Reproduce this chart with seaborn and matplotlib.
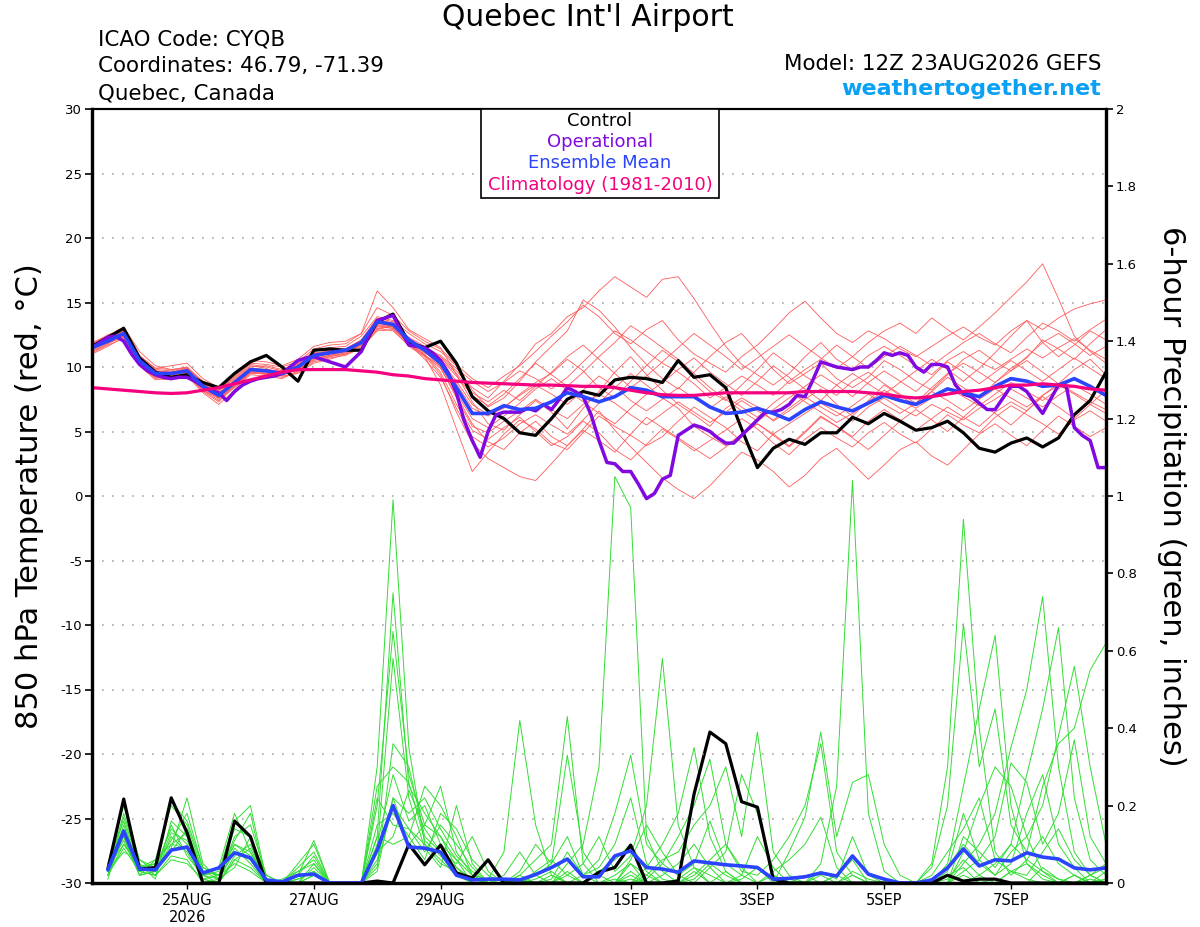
import numpy as np
import pandas as pd
import matplotlib
matplotlib.use("Agg")
import matplotlib.pyplot as plt
import seaborn as sns
from matplotlib.patches import Rectangle

# model run start, 6-hourly ensemble, 3-hourly operational
START = "2026-08-23 12:00"
times = pd.date_range(START, periods=65, freq="6h")
times_op = pd.date_range(START, periods=129, freq="3h")
times_pr = times[1:]

tick_days = ["2026-08-25", "2026-08-27", "2026-08-29", "2026-09-01",
             "2026-09-03", "2026-09-05", "2026-09-07"]
tick_labels = ["25AUG\n2026", "27AUG", "29AUG", "1SEP", "3SEP", "5SEP", "7SEP"]

# 850 hPa temperature (C)
control_t = [11.6, 12.3, 13.0, 10.7, 9.6, 9.2, 9.4, 8.8, 8.4, 9.5, 10.4, 10.9, 10.0,
             8.9, 11.3, 11.4, 11.3, 11.3, 13.5, 14.1, 11.9, 11.5, 12.0, 10.3, 7.7, 6.6,
             6.0, 4.9, 4.7, 6.0, 7.5, 8.1, 7.8, 9.0, 9.2, 9.1, 8.8, 10.5, 9.2,
             9.4, 8.4, 5.2, 2.2, 3.7, 4.4, 4.0, 4.9, 4.9, 6.1, 5.6, 6.4, 5.8,
             5.1, 5.3, 5.8, 4.9, 3.7, 3.4, 4.1, 4.5, 3.8, 4.5, 6.3, 7.4, 9.6]

oper_t = [11.5, 11.9, 12.3, 12.4, 12.0, 11.0, 10.2, 9.7, 9.4, 9.2, 9.1, 9.2, 9.2, 8.9, 8.5, 8.2,
          8.0, 7.4, 8.1, 8.6, 8.9, 9.1, 9.2, 9.3, 9.5, 10.0, 10.5, 10.7, 10.8, 10.6, 10.4, 10.2,
          10.0, 10.6, 11.2, 12.5, 13.6, 13.8, 14.0, 12.8, 11.7, 11.6, 11.5, 11.1, 10.5, 9.5, 8.0, 5.8,
          4.3, 3.0, 5.0, 6.3, 6.5, 6.5, 6.5, 6.8, 6.6, 7.1, 6.7, 7.5, 8.4, 8.1, 7.7, 6.3,
          4.3, 2.6, 2.5, 1.9, 1.9, 0.9, -0.2, 0.2, 1.3, 1.6, 4.7, 5.1, 5.5, 5.3, 5.0, 4.5,
          4.1, 4.1, 4.7, 5.3, 5.9, 6.5, 6.5, 6.7, 7.1, 7.8, 7.7, 9.0, 10.4, 10.2, 10.0, 9.9,
          9.8, 10.0, 10.0, 10.5, 11.1, 10.9, 11.1, 10.9, 10.0, 9.6, 10.2, 10.2, 10.0, 8.6, 7.9, 7.7,
          7.2, 6.7, 6.7, 7.6, 8.5, 8.5, 8.1, 7.2, 6.4, 7.5, 8.6, 8.5, 5.3, 4.7, 4.3, 2.2,
          2.2]

mean_t = [11.5, 12.0, 12.6, 10.5, 9.5, 9.5, 9.7, 8.5, 7.8, 8.8, 9.8, 9.7, 9.5,
          10.0, 10.9, 11.1, 11.3, 11.9, 13.5, 13.3, 12.1, 11.3, 10.3, 8.4, 6.4, 6.4,
          7.0, 6.7, 6.8, 7.3, 8.0, 7.7, 7.3, 7.7, 8.4, 8.2, 7.7, 7.7, 7.7,
          6.9, 6.4, 6.5, 6.8, 6.4, 5.9, 6.7, 7.3, 6.9, 6.6, 7.2, 7.8, 7.4,
          7.1, 7.7, 8.3, 8.0, 7.7, 8.5, 9.1, 8.9, 8.5, 8.6, 9.1, 8.5, 7.8]

clim_t = [8.4, 8.3, 8.2, 8.1, 8.0, 7.95, 8.0, 8.2, 8.4, 8.7, 9.0, 9.3, 9.6,
          9.8, 9.8, 9.8, 9.8, 9.7, 9.6, 9.4, 9.3, 9.1, 9.0, 8.9, 8.8, 8.75,
          8.7, 8.65, 8.6, 8.6, 8.55, 8.5, 8.5, 8.4, 8.2, 8.0, 7.85, 7.8, 7.8,
          7.9, 8.0, 8.0, 8.0, 8.0, 8.0, 8.1, 8.1, 8.1, 8.1, 8.0, 7.9, 7.7,
          7.6, 7.7, 7.9, 8.1, 8.2, 8.4, 8.6, 8.6, 8.7, 8.6, 8.5, 8.3, 8.2]

members_t = [
    [11.4, 12.2, 13.0, 10.9, 9.9, 10.1, 10.3, 9.1, 8.4, 9.5, 10.5, 10.4, 10.1,
     10.6, 11.6, 11.9, 12.0, 12.6, 14.6, 14.0, 12.8, 12.0, 11.4, 10.2, 9.1, 8.4,
     9.3, 10.1, 11.2, 12.4, 13.5, 14.8, 13.9, 12.6, 11.8, 12.9, 13.6, 12.1, 11.0,
     10.3, 9.6, 10.8, 11.7, 12.9, 14.2, 15.1, 13.8, 12.6, 11.9, 12.8, 12.2, 11.4,
     10.8, 11.6, 12.4, 13.1, 12.3, 11.7, 12.8, 13.6, 12.9, 13.8, 14.5, 14.9, 15.2],
    [11.8, 12.5, 12.9, 10.2, 9.1, 9.0, 9.3, 8.0, 7.1, 8.2, 9.6, 9.4, 9.2,
     9.6, 10.4, 10.7, 10.9, 11.5, 12.8, 12.9, 11.6, 10.8, 8.6, 5.2, 1.9, 3.4,
     4.8, 5.9, 5.2, 4.1, 3.6, 4.9, 6.2, 5.4, 4.7, 3.9, 4.6, 5.8, 6.9,
     6.1, 5.3, 4.2, 3.5, 4.8, 5.6, 6.4, 7.2, 6.5, 5.8, 6.9, 7.6, 6.8,
     6.2, 7.1, 6.5, 5.9, 6.8, 7.5, 8.3, 7.6, 6.9, 7.8, 8.6, 7.9, 7.1],
    [11.2, 11.8, 12.4, 10.6, 9.7, 9.6, 9.9, 8.8, 8.0, 9.0, 10.0, 10.1, 9.8,
     10.3, 11.2, 11.5, 11.6, 12.4, 13.9, 13.6, 12.6, 11.8, 11.2, 10.1, 8.2, 6.9,
     7.6, 8.9, 10.4, 11.6, 12.8, 15.2, 14.4, 13.1, 11.5, 10.2, 9.1, 8.3, 9.6,
     10.8, 11.9, 12.6, 11.2, 9.8, 8.7, 9.5, 10.3, 9.1, 8.4, 9.2, 10.5, 9.8,
     8.9, 8.2, 9.4, 10.6, 11.3, 10.4, 9.7, 10.8, 11.9, 12.6, 11.8, 10.9, 11.6],
    [11.6, 12.1, 12.7, 10.4, 9.3, 9.4, 9.5, 8.3, 7.6, 8.5, 9.7, 9.6, 9.3,
     9.9, 10.7, 10.9, 11.2, 11.8, 13.2, 13.1, 11.9, 11.4, 10.8, 9.7, 8.4, 7.6,
     8.9, 10.2, 11.8, 12.6, 13.9, 14.6, 15.9, 17.0, 16.2, 15.4, 16.8, 17.0, 15.3,
     13.4, 11.6, 10.2, 9.4, 8.6, 9.5, 10.8, 11.9, 10.6, 9.8, 10.9, 11.6, 10.9,
     10.1, 9.4, 10.5, 11.2, 10.4, 9.8, 10.6, 11.4, 10.7, 11.5, 12.2, 11.3, 10.6],
    [11.5, 11.9, 12.3, 10.1, 9.0, 9.2, 9.6, 8.2, 7.4, 8.4, 9.4, 9.3, 9.1,
     9.7, 10.5, 10.8, 11.0, 11.6, 13.0, 12.8, 11.7, 10.9, 9.9, 7.8, 5.6, 4.2,
     3.6, 4.9, 5.8, 4.6, 3.9, 5.2, 6.6, 5.1, 3.8, 2.6, 1.4, 0.5, -0.2,
     0.8, 2.1, 3.4, 2.8, 1.9, 0.7, 1.6, 2.9, 3.7, 2.5, 1.3, 2.4, 3.6,
     4.2, 3.1, 2.4, 3.6, 4.8, 5.6, 4.7, 3.9, 5.1, 6.2, 5.4, 4.6, 5.3],
    [11.1, 11.7, 12.2, 10.7, 9.8, 9.7, 10.0, 8.9, 8.1, 9.2, 10.2, 10.0, 9.7,
     10.2, 11.0, 11.3, 11.4, 12.1, 13.7, 13.4, 12.3, 11.6, 10.5, 8.9, 7.1, 6.3,
     6.8, 7.9, 8.8, 9.5, 10.6, 9.7, 8.4, 7.6, 8.9, 10.1, 11.3, 10.4, 9.2,
     8.1, 7.4, 8.6, 9.8, 11.1, 10.2, 9.3, 8.5, 7.8, 8.9, 9.6, 8.7, 7.9,
     7.2, 8.4, 9.5, 10.3, 9.6, 8.8, 9.9, 10.7, 12.1, 11.4, 10.6, 11.8, 12.9],
    [11.9, 12.4, 13.1, 11.2, 10.1, 9.8, 10.0, 8.7, 8.2, 9.3, 10.3, 10.2, 10.0,
     10.4, 11.4, 11.7, 11.8, 12.6, 15.9, 14.6, 12.9, 12.2, 11.5, 9.4, 7.3, 5.6,
     5.1, 6.3, 7.4, 6.5, 5.2, 6.8, 8.1, 9.6, 10.8, 9.4, 8.2, 7.1, 6.3,
     5.4, 6.8, 7.6, 6.9, 5.8, 6.6, 7.5, 8.3, 7.1, 6.2, 7.4, 8.6, 7.8,
     7.0, 8.1, 9.2, 8.4, 7.6, 8.8, 9.7, 10.5, 9.6, 8.7, 9.8, 10.6, 9.4],
    [11.3, 11.9, 12.5, 10.3, 9.4, 9.3, 9.4, 8.1, 7.3, 8.6, 9.5, 9.5, 9.4,
     9.8, 10.6, 10.8, 11.1, 11.7, 13.1, 13.0, 11.8, 10.6, 9.2, 6.8, 4.6, 3.8,
     4.5, 5.6, 6.3, 5.5, 4.8, 5.9, 7.2, 8.4, 9.5, 8.6, 7.6, 6.8, 5.4,
     4.6, 3.9, 4.8, 5.6, 4.7, 3.8, 4.9, 6.1, 5.4, 4.6, 5.8, 6.7, 5.9,
     5.1, 6.0, 6.9, 6.1, 5.4, 6.5, 7.3, 6.6, 7.8, 8.6, 7.9, 7.1, 6.4],
    [11.7, 12.3, 12.8, 10.6, 9.6, 9.5, 9.8, 8.6, 7.9, 8.9, 9.9, 9.8, 9.6,
     10.1, 11.1, 11.2, 11.4, 12.0, 13.6, 13.4, 12.2, 11.5, 10.9, 9.9, 8.9, 8.1,
     8.8, 9.7, 9.1, 8.3, 9.2, 10.4, 11.6, 12.8, 12.1, 11.2, 10.3, 9.6, 8.7,
     7.6, 8.4, 9.3, 8.6, 7.8, 8.9, 9.8, 10.6, 11.7, 10.8, 9.9, 10.8, 11.6,
     10.9, 10.1, 11.0, 11.9, 12.6, 11.8, 11.1, 12.3, 13.4, 12.8, 12.0, 12.9, 13.7],
    [11.4, 12.0, 12.6, 10.5, 9.5, 9.4, 9.6, 8.4, 7.7, 8.7, 9.8, 9.7, 9.6,
     10.0, 10.8, 11.0, 11.2, 11.8, 13.4, 13.2, 12.0, 11.0, 9.6, 7.1, 5.1, 4.4,
     5.3, 6.1, 5.0, 3.9, 4.6, 5.8, 4.9, 3.6, 2.8, 4.0, 5.2, 4.4, 3.5,
     4.3, 5.1, 6.0, 5.2, 4.1, 3.2, 4.4, 5.3, 4.5, 3.8, 4.9, 5.7, 4.8,
     4.1, 5.2, 6.3, 5.5, 4.9, 6.1, 7.0, 6.3, 5.6, 4.8, 5.9, 6.6, 5.8],
    [11.0, 11.6, 12.3, 10.8, 9.9, 9.8, 9.9, 8.8, 8.2, 9.1, 10.1, 9.9, 9.3,
     9.5, 10.3, 10.6, 11.0, 11.4, 12.9, 13.2, 12.1, 11.1, 10.4, 8.7, 6.8, 6.2,
     6.9, 7.8, 8.6, 7.9, 7.1, 8.2, 9.3, 8.5, 7.4, 6.6, 7.5, 8.4, 7.6,
     6.8, 7.7, 6.9, 6.1, 7.2, 8.1, 7.3, 6.5, 5.7, 6.4, 7.3, 8.2, 7.5,
     6.8, 7.6, 8.4, 7.7, 7.0, 7.9, 8.8, 8.1, 7.4, 8.3, 9.1, 8.4, 7.7],
    [11.6, 12.2, 12.7, 10.3, 9.2, 9.3, 9.7, 8.5, 7.5, 8.6, 9.6, 9.6, 9.5,
     9.9, 10.8, 11.0, 11.3, 11.9, 13.3, 13.1, 11.9, 10.9, 10.1, 8.0, 6.0, 5.3,
     6.2, 7.2, 8.3, 9.1, 8.2, 7.3, 6.4, 5.6, 6.8, 7.9, 8.8, 9.8, 10.7,
     9.6, 8.7, 7.8, 8.9, 10.1, 9.2, 8.3, 7.4, 8.6, 9.5, 8.7, 7.9, 8.8,
     9.7, 10.6, 9.8, 8.9, 9.9, 11.1, 12.4, 13.6, 11.9, 10.8, 11.7, 12.8, 12.1],
    [11.5, 12.1, 12.6, 10.4, 9.4, 9.6, 9.8, 8.6, 7.8, 8.8, 9.7, 9.8, 9.7,
     10.2, 11.0, 11.2, 11.3, 11.9, 13.5, 13.1, 11.9, 11.2, 10.0, 7.6, 5.4, 4.9,
     5.8, 6.6, 7.5, 6.7, 6.0, 7.1, 7.9, 7.2, 6.3, 5.5, 6.4, 7.3, 6.5,
     5.7, 6.5, 7.4, 6.6, 5.9, 6.8, 7.7, 6.9, 6.2, 7.0, 7.9, 7.1, 6.4,
     7.2, 8.1, 7.4, 6.6, 7.5, 8.3, 7.6, 6.9, 7.8, 8.7, 8.0, 7.3, 6.7],
    [11.2, 11.8, 12.5, 10.6, 9.6, 9.5, 9.6, 8.5, 7.7, 8.7, 9.9, 9.7, 9.5,
     10.0, 11.0, 11.1, 11.3, 12.0, 13.4, 13.3, 12.1, 11.3, 10.6, 9.3, 7.8, 7.0,
     7.9, 9.1, 10.3, 9.4, 8.5, 9.6, 10.8, 11.9, 13.2, 12.4, 11.5, 10.6, 9.5,
     8.4, 7.5, 6.6, 5.8, 6.7, 7.6, 8.5, 9.4, 8.6, 7.7, 8.8, 9.7, 8.9,
     8.1, 9.2, 10.4, 9.6, 8.7, 9.6, 10.5, 9.7, 8.9, 9.8, 10.7, 9.9, 9.1],
    [11.6, 12.0, 12.4, 10.2, 9.2, 9.2, 9.4, 8.2, 7.6, 8.5, 9.6, 9.5, 9.4,
     9.8, 10.6, 10.9, 11.1, 11.7, 13.2, 13.0, 11.8, 10.9, 9.4, 6.5, 4.1, 2.9,
     2.2, 1.5, 1.2, 2.5, 3.9, 5.1, 4.3, 3.4, 4.8, 6.1, 5.3, 4.5, 3.7,
     2.9, 3.8, 4.7, 5.6, 4.8, 3.9, 5.0, 6.2, 5.4, 4.5, 3.6, 4.7, 5.8,
     6.7, 5.9, 5.0, 6.1, 7.2, 6.4, 5.5, 6.6, 7.7, 6.9, 6.0, 7.1, 8.2],
    [11.4, 12.1, 12.8, 10.7, 9.7, 9.6, 9.8, 8.7, 7.9, 8.9, 9.9, 9.8, 9.6,
     10.1, 10.9, 11.1, 11.4, 12.1, 13.8, 13.5, 12.2, 11.4, 10.7, 9.5, 8.0, 7.3,
     8.2, 7.4, 8.5, 9.6, 10.8, 11.7, 10.6, 9.5, 8.4, 9.3, 10.4, 11.5, 12.6,
     11.7, 10.8, 9.8, 10.7, 11.6, 12.5, 11.6, 10.7, 9.9, 10.8, 11.9, 12.8, 13.4,
     12.6, 13.8, 12.9, 12.1, 13.1, 14.2, 15.4, 16.6, 18.0, 15.3, 12.4, 11.2, 10.3],
]

# 6-hour precipitation (inches), from hour 6 on
control_p = [0.036, 0.217, 0.036, 0.040, 0.220, 0.130, 0.0, 0.0, 0.160, 0.120, 0.0, 0.0, 0.0, 0.0, 0.0, 0.0,
             0.0, 0.005, 0.0, 0.100, 0.047, 0.098, 0.026, 0.013, 0.060, 0.0, 0.0, 0.0, 0.0, 0.0, 0.0, 0.028,
             0.040, 0.098, 0.0, 0.0, 0.005, 0.230, 0.390, 0.360, 0.210, 0.196, 0.010, 0.0, 0.0, 0.0, 0.0, 0.0,
             0.0, 0.0, 0.0, 0.0, 0.0, 0.020, 0.005, 0.010, 0.010, 0.0, 0.0, 0.0, 0.0, 0.0, 0.0, 0.0]

mean_p = [0.034, 0.134, 0.036, 0.034, 0.085, 0.093, 0.026, 0.039, 0.078, 0.065, 0.008, 0.003, 0.020, 0.023, 0.0, 0.0,
          0.0, 0.085, 0.200, 0.093, 0.090, 0.080, 0.020, 0.008, 0.010, 0.010, 0.008, 0.022, 0.040, 0.062, 0.016, 0.016,
          0.070, 0.083, 0.040, 0.036, 0.028, 0.057, 0.052, 0.047, 0.044, 0.040, 0.010, 0.012, 0.016, 0.026, 0.018, 0.070,
          0.023, 0.010, 0.0, 0.0, 0.008, 0.039, 0.088, 0.044, 0.060, 0.057, 0.078, 0.067, 0.062, 0.039, 0.034, 0.039]

members_p = [
    [0.03, 0.18, 0.05, 0.02, 0.12, 0.08, 0.01, 0.00, 0.06, 0.04, 0.00, 0.00, 0.00, 0.02, 0.00, 0.00,
     0.00, 0.30, 0.99, 0.35, 0.10, 0.06, 0.02, 0.00, 0.00, 0.00, 0.00, 0.01, 0.03, 0.00, 0.00, 0.00,
     0.02, 0.05, 0.00, 0.00, 0.01, 0.04, 0.00, 0.00, 0.02, 0.00, 0.00, 0.00, 0.00, 0.03, 0.01, 0.12,
     0.02, 0.00, 0.00, 0.00, 0.00, 0.01, 0.06, 0.02, 0.00, 0.03, 0.05, 0.01, 0.00, 0.02, 0.00, 0.01],
    [0.04, 0.12, 0.02, 0.06, 0.20, 0.15, 0.03, 0.02, 0.10, 0.08, 0.00, 0.01, 0.03, 0.05, 0.00, 0.00,
     0.00, 0.12, 0.75, 0.25, 0.18, 0.12, 0.04, 0.00, 0.00, 0.00, 0.02, 0.00, 0.00, 0.05, 0.10, 0.30,
     1.05, 0.97, 0.12, 0.03, 0.00, 0.01, 0.05, 0.02, 0.00, 0.00, 0.00, 0.01, 0.00, 0.02, 0.00, 0.00,
     0.00, 0.00, 0.00, 0.00, 0.01, 0.04, 0.10, 0.05, 0.02, 0.08, 0.12, 0.03, 0.01, 0.00, 0.02, 0.04],
    [0.02, 0.10, 0.04, 0.03, 0.09, 0.22, 0.05, 0.01, 0.04, 0.12, 0.02, 0.00, 0.01, 0.03, 0.00, 0.00,
     0.00, 0.20, 0.65, 0.28, 0.15, 0.25, 0.08, 0.02, 0.00, 0.00, 0.00, 0.00, 0.02, 0.00, 0.00, 0.00,
     0.00, 0.00, 0.01, 0.05, 0.02, 0.00, 0.00, 0.03, 0.00, 0.00, 0.00, 0.00, 0.00, 0.00, 0.00, 0.02,
     0.00, 0.00, 0.00, 0.00, 0.05, 0.30, 0.94, 0.40, 0.08, 0.02, 0.06, 0.12, 0.05, 0.02, 0.00, 0.01],
    [0.03, 0.08, 0.06, 0.04, 0.14, 0.10, 0.02, 0.03, 0.16, 0.20, 0.01, 0.00, 0.00, 0.00, 0.00, 0.00,
     0.00, 0.08, 0.58, 0.22, 0.09, 0.04, 0.20, 0.05, 0.00, 0.01, 0.00, 0.00, 0.00, 0.00, 0.00, 0.00,
     0.00, 0.03, 0.00, 0.00, 0.00, 0.00, 0.00, 0.00, 0.01, 0.04, 0.00, 0.00, 0.00, 0.05, 0.25, 1.04,
     0.18, 0.03, 0.00, 0.00, 0.00, 0.00, 0.02, 0.00, 0.01, 0.00, 0.00, 0.04, 0.01, 0.00, 0.02, 0.00],
    [0.05, 0.16, 0.03, 0.02, 0.07, 0.06, 0.00, 0.01, 0.09, 0.05, 0.00, 0.00, 0.04, 0.08, 0.00, 0.00,
     0.00, 0.04, 0.36, 0.30, 0.12, 0.08, 0.05, 0.12, 0.03, 0.00, 0.00, 0.00, 0.00, 0.02, 0.05, 0.12,
     0.03, 0.07, 0.20, 0.58, 0.15, 0.04, 0.02, 0.00, 0.00, 0.00, 0.02, 0.00, 0.00, 0.00, 0.00, 0.00,
     0.00, 0.00, 0.00, 0.00, 0.00, 0.02, 0.04, 0.00, 0.00, 0.03, 0.01, 0.00, 0.00, 0.00, 0.00, 0.00],
    [0.01, 0.14, 0.04, 0.05, 0.11, 0.18, 0.04, 0.02, 0.05, 0.03, 0.00, 0.00, 0.02, 0.11, 0.00, 0.00,
     0.00, 0.10, 0.28, 0.16, 0.20, 0.10, 0.06, 0.02, 0.01, 0.08, 0.42, 0.15, 0.02, 0.00, 0.00, 0.00,
     0.00, 0.02, 0.00, 0.00, 0.00, 0.00, 0.00, 0.00, 0.00, 0.00, 0.00, 0.00, 0.02, 0.00, 0.00, 0.00,
     0.00, 0.00, 0.00, 0.00, 0.00, 0.00, 0.05, 0.10, 0.18, 0.35, 0.50, 0.74, 0.30, 0.08, 0.02, 0.05],
    [0.02, 0.12, 0.02, 0.03, 0.10, 0.09, 0.01, 0.00, 0.07, 0.10, 0.00, 0.00, 0.00, 0.04, 0.00, 0.00,
     0.00, 0.05, 0.20, 0.14, 0.08, 0.15, 0.10, 0.04, 0.00, 0.00, 0.02, 0.06, 0.10, 0.43, 0.05, 0.00,
     0.01, 0.00, 0.04, 0.10, 0.18, 0.35, 0.12, 0.03, 0.00, 0.00, 0.00, 0.00, 0.00, 0.00, 0.00, 0.00,
     0.00, 0.00, 0.00, 0.00, 0.00, 0.00, 0.00, 0.02, 0.05, 0.10, 0.28, 0.45, 0.66, 0.22, 0.06, 0.02],
    [0.04, 0.10, 0.05, 0.01, 0.16, 0.12, 0.03, 0.01, 0.12, 0.15, 0.02, 0.00, 0.00, 0.00, 0.00, 0.00,
     0.00, 0.15, 0.18, 0.12, 0.25, 0.20, 0.12, 0.02, 0.00, 0.02, 0.08, 0.02, 0.05, 0.33, 0.08, 0.02,
     0.00, 0.05, 0.02, 0.06, 0.08, 0.15, 0.20, 0.30, 0.12, 0.39, 0.08, 0.02, 0.00, 0.00, 0.02, 0.00,
     0.00, 0.00, 0.00, 0.00, 0.00, 0.05, 0.25, 0.45, 0.64, 0.20, 0.05, 0.02, 0.00, 0.00, 0.01, 0.00],
    [0.03, 0.15, 0.03, 0.04, 0.08, 0.14, 0.02, 0.04, 0.18, 0.08, 0.01, 0.00, 0.03, 0.06, 0.00, 0.00,
     0.00, 0.08, 0.12, 0.24, 0.14, 0.08, 0.04, 0.01, 0.00, 0.00, 0.00, 0.00, 0.00, 0.00, 0.02, 0.06,
     0.18, 0.33, 0.10, 0.05, 0.12, 0.20, 0.32, 0.10, 0.03, 0.02, 0.06, 0.12, 0.20, 0.36, 0.08, 0.02,
     0.00, 0.00, 0.00, 0.00, 0.00, 0.00, 0.08, 0.20, 0.30, 0.25, 0.12, 0.20, 0.38, 0.56, 0.30, 0.10],
    [0.05, 0.20, 0.06, 0.03, 0.13, 0.11, 0.02, 0.01, 0.08, 0.06, 0.00, 0.00, 0.02, 0.07, 0.00, 0.00,
     0.00, 0.06, 0.22, 0.18, 0.22, 0.14, 0.07, 0.03, 0.00, 0.00, 0.01, 0.00, 0.00, 0.03, 0.00, 0.00,
     0.00, 0.01, 0.00, 0.02, 0.05, 0.10, 0.04, 0.00, 0.00, 0.00, 0.03, 0.06, 0.10, 0.17, 0.04, 0.00,
     0.00, 0.00, 0.00, 0.00, 0.04, 0.20, 0.67, 0.30, 0.45, 0.15, 0.08, 0.25, 0.36, 0.40, 0.55, 0.62],
    [0.02, 0.09, 0.03, 0.02, 0.06, 0.05, 0.01, 0.02, 0.11, 0.18, 0.00, 0.00, 0.05, 0.10, 0.00, 0.00,
     0.00, 0.12, 0.10, 0.12, 0.06, 0.18, 0.14, 0.06, 0.02, 0.00, 0.00, 0.03, 0.06, 0.02, 0.00, 0.00,
     0.00, 0.00, 0.02, 0.00, 0.00, 0.03, 0.00, 0.00, 0.00, 0.00, 0.00, 0.08, 0.17, 0.39, 0.12, 0.26,
     0.28, 0.10, 0.02, 0.00, 0.00, 0.00, 0.03, 0.06, 0.12, 0.31, 0.26, 0.10, 0.18, 0.37, 0.12, 0.05],
    [0.03, 0.13, 0.04, 0.05, 0.21, 0.16, 0.04, 0.02, 0.14, 0.12, 0.01, 0.00, 0.01, 0.03, 0.00, 0.00,
     0.00, 0.22, 0.15, 0.14, 0.10, 0.05, 0.03, 0.00, 0.00, 0.00, 0.00, 0.02, 0.00, 0.00, 0.00, 0.03,
     0.06, 0.10, 0.03, 0.00, 0.00, 0.02, 0.06, 0.10, 0.04, 0.00, 0.00, 0.00, 0.00, 0.00, 0.00, 0.00,
     0.00, 0.00, 0.00, 0.00, 0.00, 0.00, 0.12, 0.08, 0.04, 0.10, 0.06, 0.03, 0.00, 0.02, 0.00, 0.00],
    [0.04, 0.11, 0.02, 0.03, 0.15, 0.07, 0.02, 0.00, 0.06, 0.09, 0.00, 0.00, 0.00, 0.02, 0.00, 0.00,
     0.00, 0.25, 0.30, 0.26, 0.11, 0.07, 0.03, 0.01, 0.00, 0.00, 0.03, 0.10, 0.05, 0.12, 0.02, 0.00,
     0.00, 0.06, 0.15, 0.08, 0.02, 0.05, 0.16, 0.05, 0.02, 0.12, 0.04, 0.00, 0.00, 0.00, 0.00, 0.03,
     0.01, 0.00, 0.00, 0.00, 0.00, 0.03, 0.18, 0.06, 0.02, 0.05, 0.18, 0.28, 0.10, 0.04, 0.00, 0.03],
    [0.02, 0.17, 0.04, 0.06, 0.10, 0.13, 0.03, 0.02, 0.10, 0.07, 0.00, 0.00, 0.00, 0.05, 0.00, 0.00,
     0.00, 0.03, 0.22, 0.10, 0.15, 0.12, 0.06, 0.00, 0.00, 0.00, 0.00, 0.00, 0.01, 0.08, 0.02, 0.04,
     0.10, 0.22, 0.05, 0.01, 0.00, 0.00, 0.04, 0.08, 0.28, 0.18, 0.02, 0.00, 0.00, 0.00, 0.02, 0.06,
     0.00, 0.00, 0.00, 0.00, 0.02, 0.08, 0.14, 0.22, 0.06, 0.03, 0.02, 0.08, 0.14, 0.06, 0.02, 0.00],
]

RED = "#ff5a5a"
GREEN = "#33dd33"
PURPLE = "#8008e0"
BLUE = "#2a44ff"
PINK = "#f5007f"


def to_long(members, t, name):
    frames = []
    for k, vals in enumerate(members):
        frames.append(pd.DataFrame({"time": t, name: vals, "member": k}))
    return pd.concat(frames, ignore_index=True)


temp_df = to_long(members_t, times, "temp")
prec_df = to_long(members_p, times_pr, "precip")

sns.set_style("white")
plt.rcParams["font.family"] = ["DejaVu Sans"]
plt.rcParams["axes.unicode_minus"] = False
plt.rcParams["text.color"] = "black"
plt.rcParams["axes.labelcolor"] = "black"
plt.rcParams["xtick.color"] = "black"
plt.rcParams["ytick.color"] = "black"

fig = plt.figure(figsize=(12, 9.27), dpi=100)
ax = fig.add_axes([92 / 1200, 44 / 927, 1014 / 1200, 774 / 927])
ax2 = ax.twinx()
ax.set_zorder(ax2.get_zorder() + 1)
ax.patch.set_visible(False)

# precipitation (right axis)
sns.lineplot(data=prec_df, x="time", y="precip", units="member", estimator=None,
             color=GREEN, lw=0.7, ax=ax2)
sns.lineplot(x=times_pr, y=control_p, color="black", lw=2.3, ax=ax2)
sns.lineplot(x=times_pr, y=mean_p, color=BLUE, lw=2.6, ax=ax2)

# temperature (left axis)
sns.lineplot(data=temp_df, x="time", y="temp", units="member", estimator=None,
             color=RED, lw=0.6, ax=ax)
sns.lineplot(x=times, y=control_t, color="black", lw=2.3, ax=ax)
sns.lineplot(x=times_op, y=oper_t, color=PURPLE, lw=2.5, ax=ax)
sns.lineplot(x=times, y=mean_t, color=BLUE, lw=2.6, ax=ax)
sns.lineplot(x=times, y=clim_t, color=PINK, lw=2.3, ax=ax)

ax.set_xlim(times[0], times[-1])
ax.set_ylim(-30, 30)
ax2.set_ylim(0, 2)

temp_ticks = list(range(-30, 31, 5))
ax.set_yticks(temp_ticks)
ax.set_yticklabels([str(v) for v in temp_ticks])
prec_ticks = [round(v * 0.2, 1) for v in range(11)]
ax2.set_yticks(prec_ticks)
ax2.set_yticklabels([f"{v:g}" for v in prec_ticks])
ax.set_xticks(pd.to_datetime(tick_days))
ax.set_xticklabels(tick_labels)

ax.yaxis.grid(True, linestyle=(0, (1, 5)), color="#a8a8a8", lw=1.2)
ax.xaxis.grid(False)
ax2.grid(False)
ax.set_axisbelow(True)

ax.tick_params(axis="y", left=True, direction="out", length=5, width=1.2, labelsize=9.5, pad=2)
ax.tick_params(axis="x", bottom=True, direction="out", length=4, width=1.0, labelsize=10.5, pad=3)
ax2.tick_params(axis="y", right=True, direction="out", length=5, width=1.2, labelsize=9.5, pad=2)

for a in (ax, ax2):
    a.set_xlabel("")
    for side in ["left", "bottom", "right"]:
        a.spines[side].set_linewidth(2.3)
        a.spines[side].set_color("black")
    a.spines["top"].set_linewidth(1.5)
    a.spines["top"].set_color("black")

ax.set_ylabel("850 hPa Temperature (red, °C)", fontsize=22)
ax.yaxis.set_label_coords(-0.047, 0.5)
ax2.set_ylabel("6-hour Precipitation (green, inches)", fontsize=22, rotation=270, va="center")
ax2.yaxis.set_label_coords(1.065, 0.5)

# header texts
fig.text(588 / 1200, 1 - 18 / 927, "Quebec Int'l Airport", ha="center", va="center", fontsize=21.5)
fig.text(98 / 1200, 1 - 40 / 927, "ICAO Code: CYQB", ha="left", va="center", fontsize=15.4)
fig.text(98 / 1200, 1 - 66 / 927, "Coordinates: 46.79, -71.39", ha="left", va="center", fontsize=15.4)
fig.text(98 / 1200, 1 - 93 / 927, "Quebec, Canada", ha="left", va="center", fontsize=15.4)
fig.text(1101 / 1200, 1 - 64 / 927, "Model: 12Z 23AUG2026 GEFS", ha="right", va="center", fontsize=15.4)
fig.text(1101 / 1200, 1 - 89 / 927, "weathertogether.net", ha="right", va="center",
         fontsize=16, fontweight="bold", color="#0aa0f5")

# legend box
fig.add_artist(Rectangle((481 / 1200, 1 - 198 / 927), 238 / 1200, 89 / 927,
                         transform=fig.transFigure, facecolor="white",
                         edgecolor="black", lw=1.2, zorder=5))
legend_items = [("Control", "black", 121), ("Operational", PURPLE, 142),
                ("Ensemble Mean", BLUE, 163), ("Climatology (1981-2010)", PINK, 185)]
for label, col, ypix in legend_items:
    fig.text(600 / 1200, 1 - ypix / 927, label, ha="center", va="center",
             fontsize=13, color=col, zorder=6)

fig.savefig("out.png", dpi=100)
